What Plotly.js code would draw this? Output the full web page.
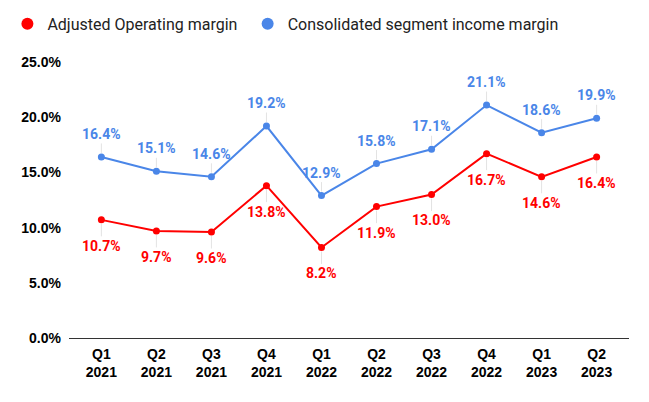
<!DOCTYPE html>
<html>
<head>
<meta charset="utf-8">
<script src="https://cdn.plot.ly/plotly-3.0.1.min.js"></script>
<style>html,body{margin:0;padding:0;background:#fff;}#chart{width:649px;height:402px;}</style>
</head>
<body>
<div id="chart"></div>
<script>
const categories = ["Q1<br>2021","Q2<br>2021","Q3<br>2021","Q4<br>2021","Q1<br>2022","Q2<br>2022","Q3<br>2022","Q4<br>2022","Q1<br>2023","Q2<br>2023"];
const adjustedOperatingMargin = [10.7, 9.7, 9.6, 13.8, 8.2, 11.9, 13.0, 16.7, 14.6, 16.4];
const segmentIncomeMargin = [16.4, 15.1, 14.6, 19.2, 12.9, 15.8, 17.1, 21.1, 18.6, 19.9];
const seriesNames = ["Adjusted Operating margin", "Consolidated segment income margin"];
const yTickVals = [0, 5, 10, 15, 20, 25];

const RED = "#ff0000", BLUE = "#4a86e8";
const FONT = "Roboto, Arial, sans-serif";
const TICKFONT = "'Liberation Sans', Arial, sans-serif";

function lineTrace(y, color) {
  return {x: categories, y: y, type: "scatter", mode: "lines+markers",
    line: {color: color, width: 2}, marker: {color: color, size: 7},
    showlegend: false, hoverinfo: "skip", cliponaxis: false};
}
function legendTrace(name, color, legendId) {
  return {x: [null], y: [null], type: "scatter", mode: "markers", name: name,
    marker: {color: color, size: 12}, showlegend: true, legend: legendId};
}

const annotations = [];
function addLabels(y, color, ay) {
  y.forEach((v, i) => {
    annotations.push({x: categories[i], y: v, xref: "x", yref: "y",
      text: v.toFixed(1) + "%", showarrow: true, arrowhead: 0, arrowwidth: 1,
      arrowcolor: "#e3e3e3", ax: 0, ay: ay, standoff: 4,
      font: {family: FONT, size: 14, color: color, weight: "bold"}});
  });
}
addLabels(adjustedOperatingMargin, RED, 26);
addLabels(segmentIncomeMargin, BLUE, -23);

const data = [
  lineTrace(adjustedOperatingMargin, RED),
  lineTrace(segmentIncomeMargin, BLUE),
  legendTrace(seriesNames[0], RED, "legend"),
  legendTrace(seriesNames[1], BLUE, "legend2")
];

const legendFont = {family: FONT, size: 16, color: "#222"};
const layout = {
  width: 649, height: 402,
  margin: {l: 69, r: 20, t: 62, b: 64, autoexpand: false},
  paper_bgcolor: "#fff", plot_bgcolor: "#fff",
  font: {family: FONT},
  showlegend: true,
  legend: {orientation: "h", x: -0.11, xanchor: "left", y: 1.2, yanchor: "top",
    font: legendFont, itemwidth: 30},
  legend2: {orientation: "h", x: 0.319, xanchor: "left", y: 1.2, yanchor: "top",
    font: legendFont, itemwidth: 30},
  xaxis: {type: "category", showgrid: false, zeroline: false, showline: true,
    linecolor: "#333", linewidth: 1, ticks: "", ticklabelstandoff: 3,
    tickfont: {family: TICKFONT, size: 14, color: "#000", weight: "bold"}, fixedrange: true},
  yaxis: {range: [0, 25], tickvals: yTickVals, ticktext: yTickVals.map(v => v.toFixed(1) + "%"),
    showgrid: false, zeroline: false, showline: false, ticks: "", ticklabelstandoff: 7,
    tickfont: {family: TICKFONT, size: 14, color: "#000", weight: "bold"}, fixedrange: true},
  annotations: annotations
};

Plotly.newPlot("chart", data, layout, {displayModeBar: false, staticPlot: true});
</script>
</body>
</html>
